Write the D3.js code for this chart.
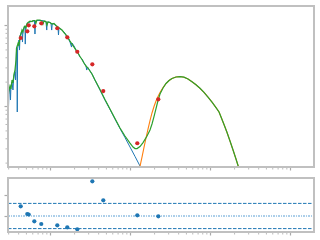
<!DOCTYPE html>
<html>
<head>
<meta charset="utf-8">
<script src="https://cdn.jsdelivr.net/npm/d3@7"></script>
<style>
  html, body { margin: 0; padding: 0; background: #fff; }
  svg { display: block; }
</style>
</head>
<body>
<script>
// values are log10(wavelength / micron) and log10(flux)

// observed spectrum (blue)
const spectrum = [
  [-1.525, 0.136], [-1.519, -0.025], [-1.513, 0.173], [-1.5, 0.222], [-1.494, 0.074], [-1.488, 0.247],
  [-1.475, 0.296], [-1.463, 0.198], [-1.456, 0.321], [-1.45, 0.370], [-1.438, 0.420], [-1.431, 0.321],
  [-1.425, 0.494], [-1.419, 0.667], [-1.413, 0.691], [-1.409, -0.074], [-1.405, 0.716], [-1.394, 0.765],
  [-1.388, 0.815], [-1.381, 0.691], [-1.375, 0.864], [-1.363, 0.901], [-1.35, 0.926], [-1.344, 0.790],
  [-1.338, 0.938], [-1.325, 0.963], [-1.313, 0.975], [-1.309, 0.765], [-1.304, 0.975], [-1.288, 1.012],
  [-1.275, 1.025], [-1.263, 1.031], [-1.25, 1.037], [-1.238, 1.043], [-1.213, 1.049], [-1.194, 1.049],
  [-1.188, 0.889], [-1.181, 1.049], [-1.163, 1.056], [-1.125, 1.056], [-1.1, 1.056], [-1.075, 1.049],
  [-1.05, 1.043], [-1.041, 0.938], [-1.034, 1.037], [-1.013, 1.037], [-0.988, 1.025], [-0.979, 0.938],
  [-0.971, 1.019], [-0.95, 1.012], [-0.925, 0.988], [-0.9, 0.975], [-0.894, 0.877], [-0.888, 0.963],
  [-0.85, 0.938], [-0.825, 0.914], [-0.8, 0.877], [-0.788, 0.827], [-0.775, 0.840], [-0.75, 0.790],
  [-0.731, 0.728], [-0.725, 0.778], [-0.7, 0.741], [-0.675, 0.691], [-0.65, 0.654], [-0.625, 0.605],
  [-0.6, 0.580], [-0.575, 0.531], [-0.55, 0.494], [-0.541, 0.444], [-0.531, 0.481], [-0.5, 0.432],
  [-0.475, 0.395], [-0.438, 0.321], [-0.375, 0.198], [-0.313, 0.074], [-0.25, -0.043], [-0.188, -0.160],
  [-0.125, -0.278], [-0.063, -0.389], [0, -0.506], [0.063, -0.623], [0.125, -0.741], [0.138, -0.765]
];

// dust component (orange)
const dust = [
  [0.119, -0.790], [0.123, -0.753], [0.15, -0.630], [0.175, -0.512], [0.2, -0.395], [0.225, -0.284],
  [0.25, -0.179], [0.275, -0.086], [0.3, -0.006], [0.325, 0.062], [0.35, 0.117], [0.375, 0.167],
  [0.413, 0.228], [0.45, 0.278], [0.488, 0.315], [0.525, 0.340], [0.575, 0.358], [0.625, 0.364],
  [0.675, 0.356], [0.725, 0.333], [0.775, 0.300], [0.825, 0.262], [0.875, 0.219], [0.925, 0.169],
  [0.975, 0.111], [1.025, 0.049], [1.075, -0.019], [1.113, -0.074], [1.138, -0.136], [1.175, -0.228],
  [1.213, -0.327], [1.25, -0.432], [1.288, -0.543], [1.325, -0.654], [1.356, -0.753], [1.369, -0.790]
];

// total model (green)
const model = [
  [-1.525, 0.099], [-1.513, 0.198], [-1.5, 0.247], [-1.488, 0.210], [-1.475, 0.321], [-1.463, 0.284],
  [-1.45, 0.395], [-1.438, 0.444], [-1.425, 0.568], [-1.419, 0.716], [-1.406, 0.753], [-1.394, 0.790],
  [-1.388, 0.741], [-1.375, 0.864], [-1.363, 0.889], [-1.35, 0.938], [-1.338, 0.914], [-1.325, 0.975],
  [-1.313, 0.988], [-1.3, 0.963], [-1.288, 1.019], [-1.275, 1.031], [-1.25, 1.049], [-1.225, 1.043],
  [-1.213, 1.056], [-1.188, 1.056], [-1.175, 1.025], [-1.163, 1.062], [-1.125, 1.062], [-1.1, 1.049],
  [-1.088, 1.012], [-1.075, 1.049], [-1.05, 1.043], [-1.038, 1.0], [-1.025, 1.037], [-1.0, 1.031],
  [-0.975, 1.012], [-0.95, 1.019], [-0.925, 0.994], [-0.9, 0.975], [-0.875, 0.957], [-0.85, 0.938],
  [-0.825, 0.907], [-0.8, 0.877], [-0.775, 0.846], [-0.75, 0.802], [-0.725, 0.765], [-0.7, 0.728],
  [-0.675, 0.691], [-0.65, 0.654], [-0.625, 0.611], [-0.6, 0.574], [-0.575, 0.531], [-0.55, 0.494],
  [-0.525, 0.469], [-0.5, 0.432], [-0.475, 0.395], [-0.438, 0.321], [-0.375, 0.204], [-0.313, 0.080],
  [-0.25, -0.037], [-0.188, -0.154], [-0.125, -0.272], [-0.063, -0.370], [0, -0.457], [0.038, -0.506],
  [0.063, -0.525], [0.088, -0.525], [0.125, -0.5], [0.163, -0.451], [0.213, -0.370], [0.25, -0.296],
  [0.275, -0.222], [0.3, -0.130], [0.325, -0.031], [0.35, 0.068], [0.375, 0.148], [0.413, 0.222],
  [0.45, 0.278], [0.488, 0.315], [0.525, 0.340], [0.575, 0.358], [0.625, 0.364], [0.675, 0.356],
  [0.725, 0.333], [0.775, 0.300], [0.825, 0.262], [0.875, 0.219], [0.925, 0.169], [0.975, 0.111],
  [1.025, 0.049], [1.075, -0.019], [1.113, -0.074], [1.138, -0.136], [1.175, -0.228], [1.213, -0.327],
  [1.25, -0.432], [1.288, -0.543], [1.325, -0.654], [1.356, -0.753], [1.369, -0.790]
];

// photometry (red) and residuals (bottom panel)
const photLogLam  = [-1.366, -1.284, -1.266, -1.196, -1.109, -0.909, -0.784, -0.659, -0.471, -0.334, 0.091, 0.354];
const photLogFlux = [0.840, 0.922, 0.996, 0.984, 1.021, 0.960, 0.848, 0.670, 0.515, 0.185, -0.460, 0.083];
const residuals   = [0.231, 0.048, 0.036, -0.126, -0.190, -0.221, -0.269, -0.317, 0.826, 0.374, 0.017, -0.007];
const residBand = 0.3;

const width = 320, height = 240;
const left = 8, right = 314;
const top1 = 6, bottom1 = 167;
const top2 = 178, bottom2 = 232;

const svg = d3.select("body")
    .append("svg")
    .attr("width", width)
    .attr("height", height);

const x = d3.scaleLinear().domain([-1.525, 2.3]).range([left, right]);
const y = d3.scaleLinear().domain([-0.753, 1.235]).range([bottom1, top1]);
const yRes = d3.scaleLinear().domain([-0.381, 0.905]).range([bottom2, top2]);

// log-style tick positions (major decades + minor 2..9)
function logTicks(domain) {
    let major = [], minor = [];
    for (let n = -3; n <= 3; n++) {
        if (n >= domain[0] && n <= domain[1]) major.push(n);
        for (let k = 2; k < 10; k++) {
            const v = n + Math.log10(k);
            if (v > domain[0] && v < domain[1]) minor.push(v);
        }
    }
    return { major, minor };
}
const xt = logTicks(x.domain());
const yt = logTicks(y.domain());

function styleAxis(g, w) {
    g.select(".domain").remove();
    g.selectAll("text").remove();
    g.selectAll(".tick line").attr("stroke", "#aaa").attr("stroke-width", w);
}

// x ticks on both panels
[bottom1 + 1, bottom2 + 1].forEach(yy => {
    svg.append("g").attr("transform", "translate(0," + yy + ")")
        .call(d3.axisBottom(x).tickValues(xt.minor).tickSize(1.5).tickFormat(""))
        .call(g => styleAxis(g, 0.8));
    svg.append("g").attr("transform", "translate(0," + yy + ")")
        .call(d3.axisBottom(x).tickValues(xt.major).tickSize(2.5).tickFormat(""))
        .call(g => styleAxis(g, 1.2));
});

// y ticks, top panel
svg.append("g").attr("transform", "translate(" + (left - 1) + ",0)")
    .call(d3.axisLeft(y).tickValues(yt.minor).tickSize(1.5).tickFormat(""))
    .call(g => styleAxis(g, 0.8));
svg.append("g").attr("transform", "translate(" + (left - 1) + ",0)")
    .call(d3.axisLeft(y).tickValues(yt.major).tickSize(2.5).tickFormat(""))
    .call(g => styleAxis(g, 1.2));

// y ticks, residual panel
svg.append("g").attr("transform", "translate(" + (left - 1) + ",0)")
    .call(d3.axisLeft(yRes).tickValues([0, 0.5]).tickSize(2.5).tickFormat(""))
    .call(g => styleAxis(g, 1.2));

// clip paths
const defs = svg.append("defs");
defs.append("clipPath").attr("id", "clipTop")
    .append("rect").attr("x", left).attr("y", top1).attr("width", right - left).attr("height", bottom1 - top1);
defs.append("clipPath").attr("id", "clipBot")
    .append("rect").attr("x", left).attr("y", top2).attr("width", right - left).attr("height", bottom2 - top2);

const line = d3.line().x(d => x(d[0])).y(d => y(d[1]));

const plot = svg.append("g").attr("clip-path", "url(#clipTop)");

plot.append("path").datum(spectrum)
    .attr("d", line).attr("fill", "none")
    .attr("stroke", "#1f77b4").attr("stroke-width", 1);

plot.append("path").datum(dust)
    .attr("d", line).attr("fill", "none")
    .attr("stroke", "#ff7f0e").attr("stroke-width", 1.1);

plot.append("path").datum(model)
    .attr("d", line).attr("fill", "none")
    .attr("stroke", "#2ca02c").attr("stroke-width", 1.2);

plot.selectAll("circle.phot")
    .data(photLogLam)
    .join("circle")
    .attr("class", "phot")
    .attr("cx", d => x(d))
    .attr("cy", (d, i) => y(photLogFlux[i]))
    .attr("r", 2.1)
    .attr("fill", "#d62728");

// residual panel
const res = svg.append("g").attr("clip-path", "url(#clipBot)");

[residBand, -residBand].forEach(v => {
    res.append("line")
        .attr("x1", left).attr("x2", right)
        .attr("y1", yRes(v)).attr("y2", yRes(v))
        .attr("stroke", "#1f77b4").attr("stroke-width", 1)
        .attr("stroke-dasharray", "3.5,1.5");
});
res.append("line")
    .attr("x1", left).attr("x2", right)
    .attr("y1", yRes(0)).attr("y2", yRes(0))
    .attr("stroke", "#5a9fd4").attr("stroke-width", 1)
    .attr("stroke-dasharray", "2,1,1,1");

res.selectAll("circle")
    .data(photLogLam)
    .join("circle")
    .attr("cx", d => x(d))
    .attr("cy", (d, i) => yRes(residuals[i]))
    .attr("r", 2.1)
    .attr("fill", "#1f77b4");

// frames
[[top1, bottom1], [top2, bottom2]].forEach(([t, b]) => {
    svg.append("rect")
        .attr("x", left).attr("y", t)
        .attr("width", right - left).attr("height", b - t)
        .attr("fill", "none")
        .attr("stroke", "#c0c0c0")
        .attr("stroke-width", 2);
});
</script>
</body>
</html>
